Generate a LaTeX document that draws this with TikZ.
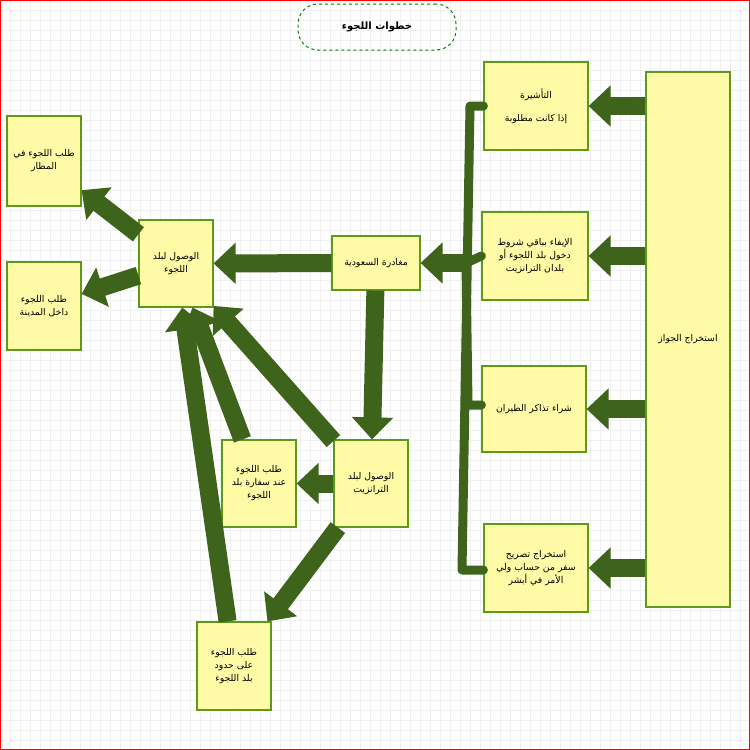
\documentclass[tikz,border=0pt]{standalone}
\usepackage{fontspec}
\newfontfamily\arfont[Script=Arabic]{DejaVu Sans}
\usetikzlibrary{arrows.meta}
\TeXXeTstate=1
\newcommand\arb[1]{\beginR#1\endR}
\definecolor{arr}{HTML}{3E631A}
\definecolor{bord}{HTML}{5E9A1A}
\begin{document}
\begin{tikzpicture}[x=1pt,y=-1pt,
 box/.style={draw=bord,line width=1.2pt,fill=yellow!35,align=center,inner sep=1pt,font=\arfont\fontsize{9.3}{13}\selectfont},
 big/.style={draw=arr,line width=18pt,-{Triangle[length=22pt,width=40pt]}},
 link/.style={draw=arr,line width=9pt,line cap=round,line join=round}]
\useasboundingbox (0,0) rectangle (750,750);
\fill[white] (0,0) rectangle (750,750);
\foreach \i in {0,10,...,750} {\draw[gray!12] (\i,0) -- (\i,750); \draw[gray!12] (0,\i) -- (750,\i);}
\draw[red] (0.5,0.5) rectangle (749.5,749.5);
\node[draw=green!50!black,dashed,line width=1pt,rounded corners=20pt,minimum width=158pt,minimum height=46pt,font=\arfont\bfseries\fontsize{10}{12}\selectfont] (T) at (377,27) {\arb{خطوات اللجوء}};
\node[box,minimum width=84pt,minimum height=535pt] (A) at (688,339.5) {\arb{استخراج الجواز}};
\node[box,minimum width=104pt,minimum height=88pt] (B1) at (536,106) {\arb{التأشيرة}\\[10pt]\arb{إذا كانت مطلوبة}};
\node[box,minimum width=106pt,minimum height=88pt] (B2) at (535,256) {\arb{الإيفاء بباقي شروط}\\\arb{دخول بلد اللجوء أو}\\\arb{بلدان الترانزيت}};
\node[box,minimum width=104pt,minimum height=86pt] (B3) at (534,409) {\arb{شراء تذاكر الطيران}};
\node[box,minimum width=104pt,minimum height=88pt] (B4) at (536,568) {\arb{استخراج تصريح}\\\arb{سفر من حساب ولي}\\\arb{الأمر في أبشر}};
\node[box,minimum width=88pt,minimum height=54pt] (C) at (376,263) {\arb{مغادرة السعودية}};
\node[box,minimum width=74pt,minimum height=87pt] (D) at (176,263.5) {\arb{الوصول لبلد}\\\arb{اللجوء}};
\node[box,minimum width=74pt,minimum height=90pt] (E1) at (44,161) {\arb{طلب اللجوء في}\\\arb{المطار}};
\node[box,minimum width=74pt,minimum height=88pt] (E2) at (44,306) {\arb{طلب اللجوء}\\\arb{داخل المدينة}};
\node[box,minimum width=74pt,minimum height=87pt] (F) at (371,483.5) {\arb{الوصول لبلد}\\\arb{الترانزيت}};
\node[box,minimum width=74pt,minimum height=87pt] (G) at (259,483.5) {\arb{طلب اللجوء}\\\arb{عند سفارة بلد}\\\arb{اللجوء}};
\node[box,minimum width=74pt,minimum height=88pt] (H) at (234,666) {\arb{طلب اللجوء}\\\arb{على حدود}\\\arb{بلد اللجوء}};
\foreach \b in {B1,B2,B3,B4} \draw[big] (A.west |- \b) -- (\b.east);
\coordinate (k1) at (470,106); \coordinate (k4) at (462,570);
\coordinate (j) at (466,263);
\draw[link] (B1.west) -- (k1) -- (k4) -- (B4.west |- k4);
\draw[link] (B2.west) -- (j);
\draw[link] (j) -- (468,405) -- (B3.west |- 0,405);
\draw[big] (j) -- (C.east);
\draw[big] (C) -- (D);
\draw[big] (C) -- (F);
\draw[big] (D) -- (E1);
\draw[big] (D) -- (E2);
\draw[big] (F) -- (G);
\draw[big] (F) -- (D);
\draw[big] (G) -- (D);
\draw[big] (H) -- (D);
\draw[big] (F) -- (H);
\end{tikzpicture}
\end{document}
